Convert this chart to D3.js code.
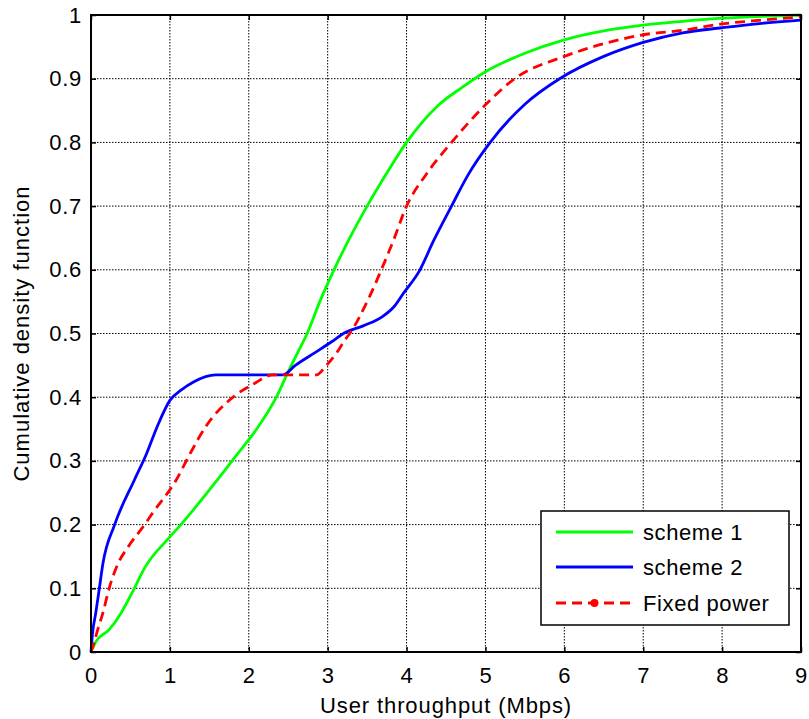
<!DOCTYPE html>
<html><head><meta charset="utf-8">
<script src="https://cdn.jsdelivr.net/npm/d3@7"></script>
<style>body{margin:0;background:#fff}svg{display:block}text{font-family:"Liberation Sans",Arial,sans-serif}</style>
</head><body><svg id="c" width="809" height="719"></svg>
<script>
const xTicks=[0,1,2,3,4,5,6,7,8,9];
const yTicks=[0,0.1,0.2,0.3,0.4,0.5,0.6,0.7,0.8,0.9,1];
const yTickLabels=["0","0.1","0.2","0.3","0.4","0.5","0.6","0.7","0.8","0.9","1"];
const seriesNames=["scheme 1","scheme 2","Fixed power"];
const seriesColors=["#00ff00","#0000ff","#ff0000"];
const scheme1=[[0.02,0.005],[0.06,0.016],[0.23,0.035],[0.38,0.061],[0.55,0.1],[0.68,0.132],[0.98,0.178],[1.14,0.2],[1.6,0.27],[1.85,0.31],[2.1,0.35],[2.35,0.4],[2.5,0.44],[2.62,0.47],[2.74,0.5],[2.9,0.55],[3.08,0.6],[3.28,0.65],[3.5,0.7],[3.74,0.75],[4.0,0.8],[4.4,0.858],[4.7,0.886],[5.0,0.911],[5.5,0.94],[6.0,0.961],[6.5,0.975],[7.0,0.984],[7.5,0.99],[8.0,0.995],[8.5,0.998],[9.0,1.0]];
const scheme2=[[0,0],[0.02,0.03],[0.06,0.061],[0.106,0.1],[0.15,0.138],[0.3,0.2],[0.55,0.27],[0.7,0.31],[0.84,0.354],[1.0,0.395],[1.15,0.412],[1.3,0.424],[1.58,0.435],[2.43,0.435],[2.59,0.45],[2.84,0.47],[3.05,0.487],[3.2,0.5],[3.45,0.512],[3.7,0.527],[3.84,0.542],[3.96,0.563],[4.17,0.6],[4.34,0.645],[4.57,0.7],[4.78,0.749],[5.06,0.8],[5.5,0.86],[5.94,0.9],[6.5,0.935],[7.0,0.957],[7.5,0.972],[8.0,0.98],[8.5,0.987],[9.0,0.992]];
const fixedPower=[[0,0],[0.04,0.015],[0.085,0.035],[0.15,0.061],[0.23,0.1],[0.34,0.138],[0.47,0.165],[0.68,0.2],[0.78,0.218],[1.08,0.27],[1.25,0.31],[1.455,0.354],[1.8,0.4],[2.05,0.42],[2.31,0.435],[2.86,0.435],[2.97,0.448],[3.11,0.469],[3.22,0.49],[3.28,0.5],[3.52,0.555],[3.68,0.6],[3.83,0.645],[4.0,0.7],[4.25,0.75],[4.57,0.8],[5.0,0.859],[5.37,0.9],[6.0,0.935],[6.5,0.955],[7.0,0.969],[7.5,0.976],[8.0,0.986],[8.5,0.992],[9.0,0.997]];
const allSeries=[scheme1,scheme2,fixedPower];

const svg=d3.select("#c");
const L=91,R=801,T=15,B=652;
const x=d3.scaleLinear().domain([0,9]).range([L,R]);
const y=d3.scaleLinear().domain([0,1]).range([B,T]);
const FONT="'Liberation Sans',Arial,sans-serif";

// grid
const g=svg.append("g");
g.selectAll(".gx").data(xTicks.slice(1,-1)).enter().append("line")
 .attr("x1",d=>x(d)).attr("x2",d=>x(d)).attr("y1",T).attr("y2",B)
 .attr("stroke","#000").attr("stroke-width",1).attr("stroke-dasharray","1.5,1.5");
g.selectAll(".gy").data(yTicks.slice(1,-1)).enter().append("line")
 .attr("x1",L).attr("x2",R).attr("y1",d=>y(d)).attr("y2",d=>y(d))
 .attr("stroke","#000").attr("stroke-width",1).attr("stroke-dasharray","1.5,1.5");

// axes
const fs=22;
const xb=svg.append("g").attr("transform",`translate(0,${B})`).call(d3.axisBottom(x).tickValues(xTicks).tickSize(-5).tickPadding(15).tickFormat(d3.format("d")));
const xt=svg.append("g").attr("transform",`translate(0,${T})`).call(d3.axisTop(x).tickValues(xTicks).tickSize(-5).tickFormat(""));
const yl=svg.append("g").attr("transform",`translate(${L},0)`).call(d3.axisLeft(y).tickValues(yTicks).tickSize(-5).tickPadding(9).tickFormat((d,i)=>yTickLabels[i]));
const yr=svg.append("g").attr("transform",`translate(${R},0)`).call(d3.axisRight(y).tickValues(yTicks).tickSize(-5).tickFormat(""));
[xb,xt,yl,yr].forEach(a=>{
  a.select(".domain").remove();
  a.selectAll(".tick line").attr("stroke","#000").attr("stroke-width",1.5);
  a.selectAll("text").attr("fill","#000").style("font-size",fs+"px").style("font-family",FONT).style("letter-spacing","0.7px");
});

// curves
const line=d3.line().x(d=>x(d[0])).y(d=>y(d[1])).curve(d3.curveMonotoneX);
allSeries.forEach((s,i)=>{
  svg.append("path").datum(s).attr("d",line).attr("fill","none")
   .attr("stroke",seriesColors[i]).attr("stroke-width",2.8)
   .attr("stroke-dasharray",i===2?"10,6":null);
});

// frame
svg.append("rect").attr("x",L).attr("y",T).attr("width",R-L).attr("height",B-T)
 .attr("fill","none").attr("stroke","#000").attr("stroke-width",2);

// labels
svg.append("text").attr("x",(L+R)/2).attr("y",713).attr("text-anchor","middle")
 .style("font-size","22px").style("letter-spacing","0.9px").text("User throughput (Mbps)");
svg.append("text").attr("transform",`translate(29,${(T+B)/2}) rotate(-90)`).attr("text-anchor","middle")
 .style("font-size","22px").style("letter-spacing","1px").text("Cumulative density function");

// legend
const lg=svg.append("g");
lg.append("rect").attr("x",541).attr("y",511).attr("width",248).attr("height",114)
 .attr("fill","#fff").attr("stroke","#000").attr("stroke-width",1.5);
const rows=[532,567,603];
seriesNames.forEach((n,i)=>{
  lg.append("line").attr("x1",556).attr("x2",633).attr("y1",rows[i]).attr("y2",rows[i])
   .attr("stroke",seriesColors[i]).attr("stroke-width",2.8).attr("stroke-dasharray",i===2?"10,6":null);
  if(i===2) lg.append("circle").attr("cx",594.5).attr("cy",rows[i]).attr("r",4).attr("fill",seriesColors[i]);
  lg.append("text").attr("x",643).attr("y",rows[i]+8).style("font-size","22px").style("letter-spacing","0.6px").text(n);
});
</script></body></html>
